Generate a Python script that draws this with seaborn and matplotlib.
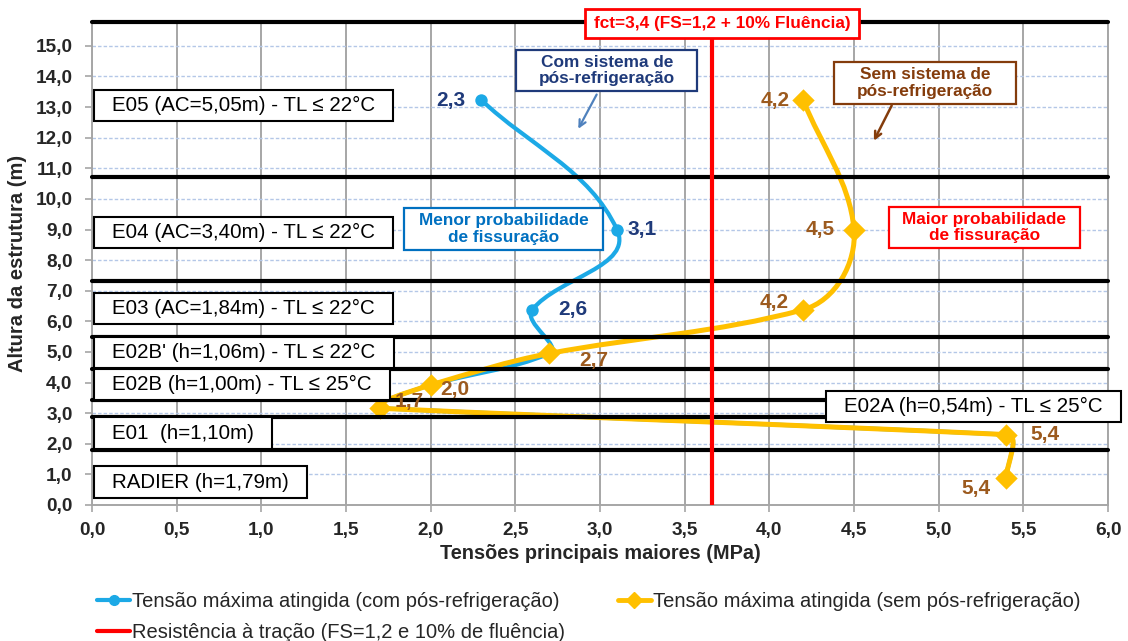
import numpy as np
import pandas as pd
import matplotlib
matplotlib.use("Agg")
import matplotlib.pyplot as plt
import seaborn as sns
from matplotlib.path import Path
from matplotlib.patches import PathPatch
from matplotlib.lines import Line2D

# ---------------------------------------------------------------- data
# height (m) of the point of maximum stress in each lift
alturas = [13.23, 9.0, 6.38, 4.95, 3.92, 3.16, 2.3, 0.88]
# maximum principal stress (MPa) with and without post-cooling
tensao_com = [2.3, 3.1, 2.6, 2.7, 2.0, 1.7, 5.4, 5.4]
tensao_sem = [4.2, 4.5, 4.2, 2.7, 2.0, 1.7, 5.4, 5.4]
n_rotulos_com = 3  # the post-cooled series only differs in the upper lifts

# tensile strength line
resistencia = 3.66
rotulo_resistencia = "fct=3,4 (FS=1,2 + 10% Fluência)"

# lift boundaries (m)
cotas_camadas = [1.79, 2.89, 3.43, 4.43, 5.49, 7.33, 10.73, 15.78]

camadas = ["E05 (AC=5,05m) - TL ≤ 22°C", "E04 (AC=3,40m) - TL ≤ 22°C",
           "E03 (AC=1,84m) - TL ≤ 22°C", "E02B' (h=1,06m) - TL ≤ 22°C",
           "E02B (h=1,00m) - TL ≤ 25°C", "E02A (h=0,54m) - TL ≤ 25°C",
           "E01  (h=1,10m)", "RADIER (h=1,79m)"]
camadas_y = [13.06, 8.9, 6.42, 4.98, 3.94, 3.22, 2.35, 0.75]
camadas_x = [0.118, 0.118, 0.118, 0.118, 0.118, 4.44, 0.118, 0.118]

x_ticks = np.arange(0, 6.01, 0.5)
y_ticks = np.arange(0, 15.01, 1.0)

# ---------------------------------------------------------------- style
AZUL = "#1CA9E6"
AMARELO = "#FFC000"
VERMELHO = "#FF0000"
AZUL_ESC = "#1F3A7A"
MARROM = "#9C5A1E"
MARROM_ESC = "#843C0C"
AZUL_MED = "#0070C0"

sns.set_theme(style="white")
plt.rcParams["font.family"] = ["Liberation Sans", "DejaVu Sans"]

fig = plt.figure(figsize=(11.28, 6.41), dpi=100)
ax = fig.add_axes([92 / 1128, 136 / 641, 1016 / 1128, 483 / 641])
ax.set_xlim(0, 6.0)
ax.set_ylim(0, 15.78)

# grid: solid grey verticals, dashed light-blue horizontals
ax.set_xticks(x_ticks)
ax.set_yticks(y_ticks)
ax.xaxis.grid(True, color="#A6A6A6", lw=1.4, zorder=0)
ax.yaxis.grid(True, color="#B4C7E7", lw=1.0, ls=(0, (2.5, 1.5)), zorder=0)
ax.set_axisbelow(True)
for s in ("left", "bottom", "right"):
    ax.spines[s].set_color("#A6A6A6")
    ax.spines[s].set_linewidth(1.4)
ax.spines["top"].set_visible(False)

fmt = lambda v: f"{v:.1f}".replace(".", ",")
ax.set_xticklabels([fmt(v) for v in x_ticks], fontsize=13.7, fontweight="bold")
ax.set_yticklabels([fmt(v) for v in y_ticks], fontsize=13.7, fontweight="bold")
ax.tick_params(axis="both", which="major", direction="out", length=5,
               color="#A6A6A6", width=1.2, left=True, bottom=True)
ax.tick_params(axis="y", pad=9)
ax.tick_params(axis="x", pad=7)


# ---------------------------------------------------------------- smoothed curves
def curva_suave(xs, ys, k=0.35):
    """Bezier path through the points.  Tangents are taken on screen and lean
    towards the longer neighbouring segment; handle lengths scale with each
    segment's own length."""
    pos = ax.get_position()
    sx = fig.get_figwidth() * fig.dpi * pos.width / (ax.get_xlim()[1] - ax.get_xlim()[0])
    sy = fig.get_figheight() * fig.dpi * pos.height / (ax.get_ylim()[1] - ax.get_ylim()[0])
    P = np.column_stack([np.asarray(xs) * sx, np.asarray(ys) * sy])
    n = len(P)

    tang = []
    for i in range(n):
        t = np.zeros(2)
        if i > 0:
            d = P[i] - P[i - 1]
            t += d * np.linalg.norm(d)
        if i < n - 1:
            d = P[i + 1] - P[i]
            t += d * np.linalg.norm(d)
        tang.append(t / np.linalg.norm(t))

    verts = [P[0]]
    codes = [Path.MOVETO]
    for i in range(n - 1):
        p1, p2 = P[i], P[i + 1]
        seg = np.linalg.norm(p2 - p1)
        verts += [p1 + tang[i] * k * seg, p2 - tang[i + 1] * k * seg, p2]
        codes += [Path.CURVE4] * 3
    verts = np.array(verts) / [sx, sy]
    return Path(verts, codes)


ax.add_patch(PathPatch(curva_suave(tensao_com, alturas), fill=False, edgecolor=AZUL,
                       lw=3.0, capstyle="round", joinstyle="round", zorder=2))
ax.add_patch(PathPatch(curva_suave(tensao_sem, alturas), fill=False, edgecolor=AMARELO,
                       lw=3.6, capstyle="round", joinstyle="round", zorder=2.2))

df_com = pd.DataFrame({"tensao": tensao_com, "altura": alturas})
df_sem = pd.DataFrame({"tensao": tensao_sem, "altura": alturas})
sns.scatterplot(data=df_com, x="tensao", y="altura", ax=ax, color=AZUL, marker="o",
                s=80, linewidth=0, legend=False, zorder=2.1)
sns.scatterplot(data=df_sem, x="tensao", y="altura", ax=ax, color=AMARELO, marker="D",
                s=130, linewidth=0, legend=False, zorder=2.3)
ax.set_xlabel("Tensões principais maiores (MPa)", fontsize=14.3, fontweight="bold",
              labelpad=4)
ax.set_ylabel("Altura da estrutura (m)", fontsize=14.5, fontweight="bold", labelpad=6)

# lift boundaries and tensile strength
for c in cotas_camadas:
    ax.axhline(c, color="black", lw=3.0, zorder=3, clip_on=False)
ax.axvline(resistencia, color=VERMELHO, lw=3.0, zorder=3.5)

# ---------------------------------------------------------------- value labels
PX = 0.72  # points per pixel
desloc_com = [(-16, 0, "right"), (11, 0, "left"), (26, 0, "left")]
desloc_sem = [(-13, 0, "right"), (-19, 0, "right"), (-14, 7, "right"), (30, -7, "left"),
              (10, -4, "left"), (15, 7, "left"), (24, 0, "left"), (-16, -10, "right")]
for (x, y), (dx, dy, ha) in zip(zip(tensao_com[:n_rotulos_com], alturas), desloc_com):
    ax.annotate(fmt(x), (x, y), xytext=(dx * PX, dy * PX), textcoords="offset points",
                ha=ha, va="center", fontsize=15, fontweight="bold", color=AZUL_ESC,
                zorder=6)
for (x, y), (dx, dy, ha) in zip(zip(tensao_sem, alturas), desloc_sem):
    ax.annotate(fmt(x), (x, y), xytext=(dx * PX, dy * PX), textcoords="offset points",
                ha=ha, va="center", fontsize=15, fontweight="bold", color=MARROM,
                zorder=6)


# ---------------------------------------------------------------- boxes
class CaixaPad:
    def __init__(self, padx, pady):
        self.padx, self.pady = padx, pady

    def __call__(self, x0, y0, width, height, mutation_size):
        px, py = self.padx * mutation_size, self.pady * mutation_size
        x0, y0 = x0 - px, y0 - py
        x1, y1 = x0 + width + 2 * px, y0 + height + 2 * py
        return Path([(x0, y0), (x1, y0), (x1, y1), (x0, y1), (x0, y0)], closed=True)


for txt, x, y in zip(camadas, camadas_x, camadas_y):
    ax.text(x, y, txt, ha="left", va="center", fontsize=14.8, color="black", zorder=5,
            clip_on=False,
            bbox=dict(boxstyle=CaixaPad(0.89, 0.3), fc="white", ec="black", lw=1.5))

caixas = [
    ("Com sistema de\npós-refrigeração", 3.04, 14.19, AZUL_ESC, 1.3),
    ("Sem sistema de\npós-refrigeração", 4.92, 13.79, MARROM_ESC, 1.35),
    ("Menor probabilidade\nde fissuração", 2.43, 9.02, AZUL_MED, 0.85),
    ("Maior probabilidade\nde fissuração", 5.27, 9.07, VERMELHO, 0.8),
]
for txt, x, y, cor, padx in caixas:
    ax.text(x, y, txt, ha="center", va="center", fontsize=12.4, fontweight="bold",
            color=cor, linespacing=1.1, zorder=5,
            bbox=dict(boxstyle=CaixaPad(padx, 0.3), fc="white", ec=cor, lw=1.6))

ax.text(3.72, 15.72, rotulo_resistencia, ha="center", va="center", fontsize=12.4,
        fontweight="bold", color=VERMELHO, zorder=6, clip_on=False,
        bbox=dict(boxstyle=CaixaPad(0.5, 0.4), fc="white", ec=VERMELHO, lw=2))

ax.annotate("", xy=(2.864, 12.21), xytext=(2.988, 13.49),
            arrowprops=dict(arrowstyle="->", color="#4F81BD", lw=1.6), zorder=5)
ax.annotate("", xy=(4.61, 11.82), xytext=(4.73, 13.13),
            arrowprops=dict(arrowstyle="->", color=MARROM_ESC, lw=1.8), zorder=5)

# ---------------------------------------------------------------- legend
h_com = Line2D([], [], color=AZUL, lw=3, marker="o", ms=7)
h_sem = Line2D([], [], color=AMARELO, lw=3.5, marker="D", ms=8)
h_res = Line2D([], [], color=VERMELHO, lw=3)
fig.legend([h_com, h_res, h_sem],
           ["Tensão máxima atingida (com pós-refrigeração)",
            "Resistência à tração (FS=1,2 e 10% de fluência)",
            "Tensão máxima atingida (sem pós-refrigeração)"],
           loc="upper left", bbox_to_anchor=(97 / 1128, 1 - 592 / 641), ncol=2,
           frameon=False, fontsize=14.5, handlelength=1.65, handletextpad=0.1,
           columnspacing=2.6, labelspacing=0.62, borderpad=0, borderaxespad=0)

fig.savefig("out.png", dpi=100)
